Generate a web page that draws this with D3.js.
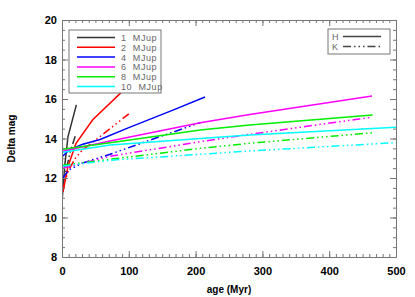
<!DOCTYPE html>
<html>
<head>
<meta charset="utf-8">
<script src="https://cdn.jsdelivr.net/npm/d3@7"></script>
<style>
  body { margin: 0; background: #fff; }
  text { font-family: "Liberation Sans", "DejaVu Sans", sans-serif; }
</style>
</head>
<body>
<div id="chart"></div>
<script>
// ages in Myr, Delta mag values
const masses = ['1 MJup', '2 MJup', '4 MJup', '6 MJup', '8 MJup', '10 MJup'];
const colors = ['#333333', '#ff0000', '#0000ff', '#ff00ff', '#00ee00', '#00ffff'];

const age1H = [0.5, 4, 9, 21.5];
const mag1H = [11.0, 12.6, 14.1, 15.7];
const age1K = [1, 4, 13, 21];
const mag1K = [11.3, 12.1, 13.4, 14.25];

const age2H = [1.5, 9, 21, 46, 97];
const mag2H = [11.3, 12.6, 13.75, 14.95, 16.6];
const age2K = [1, 5, 10, 20, 30, 57, 100];
const mag2K = [11.3, 11.9, 12.4, 13.0, 13.4, 14.1, 15.25];

const age4H = [1, 10, 30, 57, 100, 167, 214];
const mag4H = [13.1, 13.4, 13.7, 13.95, 14.55, 15.45, 16.1];
const age4K = [1, 10, 30, 72, 130, 207];
const mag4K = [12.0, 12.4, 12.75, 13.2, 13.9, 14.8];

const age6H = [1, 72, 207, 281, 464];
const mag6H = [13.35, 13.87, 14.8, 15.22, 16.15];
const age6K = [1, 72, 207, 281, 462];
const mag6K = [12.5, 13.1, 13.84, 14.21, 15.07];

const age8H = [1, 72, 207, 281, 465];
const mag8H = [13.45, 13.78, 14.43, 14.68, 15.19];
const age8K = [1, 72, 207, 281, 465];
const mag8K = [12.65, 12.95, 13.5, 13.76, 14.29];

const age10H = [1, 72, 207, 281, 500];
const mag10H = [13.3, 13.67, 14.0, 14.18, 14.57];
const age10K = [1, 72, 207, 281, 500];
const mag10K = [12.6, 12.9, 13.2, 13.37, 13.79];

const xTicks = [0, 100, 200, 300, 400, 500];
const yTicks = [8, 10, 12, 14, 16, 18, 20];

const MARGIN = {TOP: 20, BOTTOM: 40, LEFT: 62, RIGHT: 19};
const W = 415, H = 297;
const WIDTH = W - MARGIN.LEFT - MARGIN.RIGHT;
const HEIGHT = H - MARGIN.TOP - MARGIN.BOTTOM;
const AXIS = '#777777';
const KDASH = '8,3,1.5,3,1.5,3,1.5,3';

const svg = d3.select('#chart').append('svg')
    .attr('width', W).attr('height', H);
const g = svg.append('g')
    .attr('transform', `translate(${MARGIN.LEFT}, ${MARGIN.TOP})`);

const x = d3.scaleLinear().domain([0, 500]).range([0, WIDTH]);
const y = d3.scaleLinear().domain([8, 20]).range([HEIGHT, 0]);

g.append('clipPath').attr('id', 'clip')
  .append('rect').attr('width', WIDTH).attr('height', HEIGHT);

// curves
const series = [
  [age1H, mag1H, age1K, mag1K],
  [age2H, mag2H, age2K, mag2K],
  [age4H, mag4H, age4K, mag4K],
  [age6H, mag6H, age6K, mag6K],
  [age8H, mag8H, age8K, mag8K],
  [age10H, mag10H, age10K, mag10K]
];
const line = d3.line().x(d => x(d[0])).y(d => y(d[1]));
const plot = g.append('g').attr('clip-path', 'url(#clip)');

series.forEach((s, i) => {
  const hPts = d3.zip(s[0], s[1]);
  const kPts = d3.zip(s[2], s[3]);
  plot.append('path').datum(kPts)
    .attr('d', line).attr('fill', 'none')
    .attr('stroke', colors[i]).attr('stroke-width', 1.5)
    .attr('stroke-dasharray', KDASH);
  plot.append('path').datum(hPts)
    .attr('d', line).attr('fill', 'none')
    .attr('stroke', colors[i]).attr('stroke-width', 1.5);
});

// axes: ticks inside on all four sides
const xMinor = d3.range(0, 501, 10);
const yMinor = d3.range(8, 20.01, 0.5);

function styleAxis(sel) {
  sel.select('.domain').attr('stroke', AXIS);
  sel.selectAll('.tick line').attr('stroke', AXIS);
}

g.append('g').attr('transform', `translate(0, ${HEIGHT})`)
  .call(d3.axisBottom(x).tickValues(xMinor).tickSize(-3).tickFormat('').tickSizeOuter(0))
  .call(styleAxis);
g.append('g').attr('transform', `translate(0, ${HEIGHT})`)
  .call(d3.axisBottom(x).tickValues(xTicks).tickSize(-6).tickPadding(10).tickSizeOuter(0))
  .call(styleAxis)
  .call(a => a.selectAll('text').attr('fill', '#000').attr('font-size', 11).attr('font-weight', 'bold'));
g.append('g')
  .call(d3.axisTop(x).tickValues(xMinor).tickSize(-3).tickFormat('').tickSizeOuter(0))
  .call(styleAxis);
g.append('g')
  .call(d3.axisTop(x).tickValues(xTicks).tickSize(-6).tickFormat('').tickSizeOuter(0))
  .call(styleAxis);

g.append('g')
  .call(d3.axisLeft(y).tickValues(yMinor).tickSize(-3).tickFormat('').tickSizeOuter(0))
  .call(styleAxis);
g.append('g')
  .call(d3.axisLeft(y).tickValues(yTicks).tickSize(-6).tickPadding(5).tickSizeOuter(0))
  .call(styleAxis)
  .call(a => a.selectAll('text').attr('fill', '#000').attr('font-size', 11).attr('font-weight', 'bold'));
g.append('g').attr('transform', `translate(${WIDTH}, 0)`)
  .call(d3.axisRight(y).tickValues(yMinor).tickSize(-3).tickFormat('').tickSizeOuter(0))
  .call(styleAxis);
g.append('g').attr('transform', `translate(${WIDTH}, 0)`)
  .call(d3.axisRight(y).tickValues(yTicks).tickSize(-6).tickFormat('').tickSizeOuter(0))
  .call(styleAxis);

// axis titles
svg.append('text')
  .attr('x', MARGIN.LEFT + WIDTH / 2).attr('y', 293)
  .attr('text-anchor', 'middle').attr('font-size', 10).attr('font-weight', 'bold')
  .text('age (Myr)');
svg.append('text')
  .attr('transform', `translate(15, ${MARGIN.TOP + HEIGHT / 2}) rotate(-90)`)
  .attr('text-anchor', 'middle').attr('font-size', 10).attr('font-weight', 'bold')
  .text('Delta mag');

// mass legend
const leg = svg.append('g').attr('transform', 'translate(69, 30)');
leg.append('rect').attr('width', 92).attr('height', 63)
  .attr('fill', '#fff').attr('stroke', AXIS).attr('stroke-width', 1);
masses.forEach((m, i) => {
  const ly = 7.5 + i * 9.8;
  leg.append('line').attr('x1', 8).attr('x2', 46).attr('y1', ly).attr('y2', ly)
    .attr('stroke', colors[i]).attr('stroke-width', 1.5);
  leg.append('text').attr('x', 52).attr('y', ly + 3.5)
    .attr('font-size', 9).attr('letter-spacing', 0.6)
    .attr('fill', '#666').text(m.replace(' ', '\u00a0\u00a0'));
});

// band legend
const leg2 = svg.append('g').attr('transform', 'translate(328, 29)');
leg2.append('rect').attr('width', 62).attr('height', 25)
  .attr('fill', '#fff').attr('stroke', AXIS).attr('stroke-width', 1);
[['H', null], ['K', KDASH]].forEach((b, i) => {
  const ly = 7.5 + i * 10;
  leg2.append('text').attr('x', 4).attr('y', ly + 3.5)
    .attr('font-size', 9).attr('fill', '#666').text(b[0]);
  leg2.append('line').attr('x1', 15).attr('x2', 53).attr('y1', ly).attr('y2', ly)
    .attr('stroke', '#444').attr('stroke-width', 1.5)
    .attr('stroke-dasharray', b[1]);
});
</script>
</body>
</html>
